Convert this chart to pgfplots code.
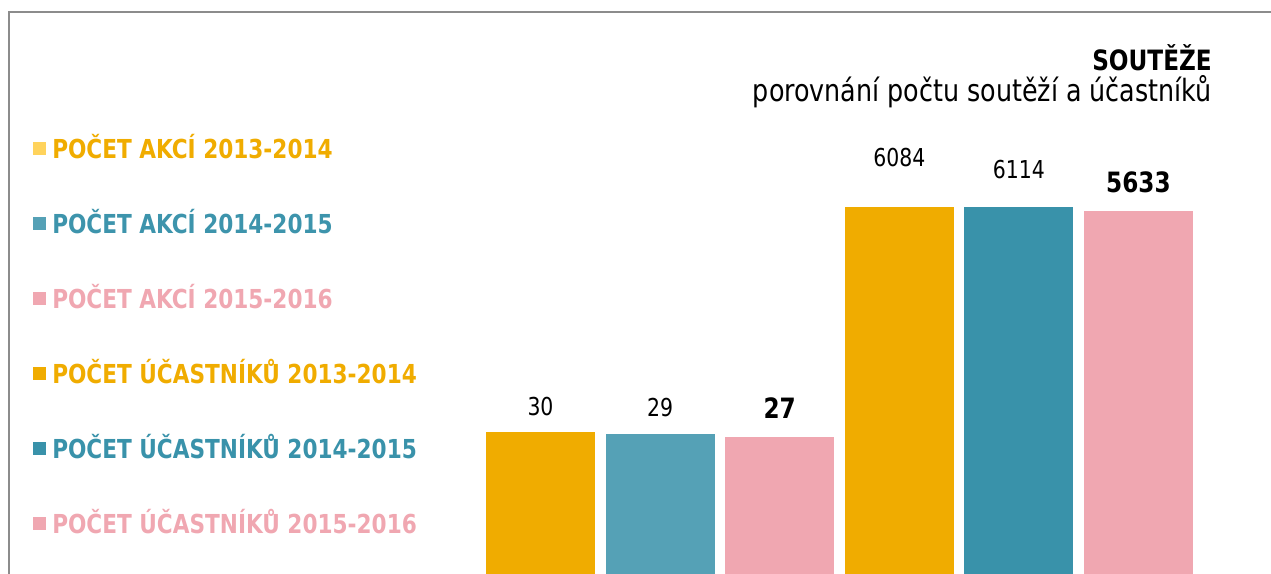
\documentclass[border=0pt]{standalone}
\usepackage{pgfplots}
\pgfplotsset{compat=1.18}
\usepackage{fontspec}
\setmainfont{DejaVu Sans Condensed}[FakeStretch=0.92]
\definecolor{cOrange}{HTML}{F0AC00}
\definecolor{cYellow}{HTML}{FFD35C}
\definecolor{cTeal}{HTML}{55A1B6}
\definecolor{cTealText}{HTML}{3D94AC}
\definecolor{cDark}{HTML}{3992AA}
\definecolor{cPink}{HTML}{F0A7B1}
\definecolor{cFrame}{HTML}{8C8C8C}
\pgfplotsset{
  sq/.style={legend image code/.code={\fill[#1] (0pt,-4.875pt) rectangle (9.75pt,4.875pt);}},
}
\begin{document}
\begin{tikzpicture}
% frame (only left and top are visible)
\draw[cFrame, line width=1pt] (6.75pt,-12pt) -- (6.75pt,421.5pt) -- (970pt,421.5pt);
\node[anchor=base east, inner sep=0pt, font=\bfseries\fontsize{21}{24}\selectfont] at (909pt,377.25pt) {SOUTĚŽE};
\node[anchor=base east, inner sep=0pt, font=\fontsize{23}{26}\selectfont] at (909pt,354pt) {porovnání počtu soutěží a účastníků};
\begin{axis}[
  at={(360.525pt,-1.5pt)}, anchor=south west,
  scale only axis, width=538.2pt, height=423pt,
  xmin=-0.5, xmax=5.5,
  ymode=log, ymin=1, ymax=617000,
  hide axis,
  bar width=0.911,
  legend cell align=left,
  legend style={
    draw=none, fill=none, inner sep=0pt,
    at={(-0.6239,0.7748)}, anchor=north west,
    font=\bfseries\fontsize{19.6}{22}\selectfont,
    row sep=41.8pt,
    nodes={inner sep=0pt, text height=14.4pt, text depth=0pt},
    /tikz/every odd column/.append style={column sep=4.5pt},
  },
]
\addplot[ybar, bar shift=0pt, fill=cOrange, draw=none, sq=cYellow] coordinates {(0,30)};
\addlegendentry{\textcolor{cOrange}{POČET AKCÍ 2013-2014}}
\addplot[ybar, bar shift=0pt, fill=cTeal, draw=none, sq=cTeal] coordinates {(1,29)};
\addlegendentry{\textcolor{cTealText}{POČET AKCÍ 2014-2015}}
\addplot[ybar, bar shift=0pt, fill=cPink, draw=none, sq=cPink] coordinates {(2,27)};
\addlegendentry{\textcolor{cPink}{POČET AKCÍ 2015-2016}}
\addplot[ybar, bar shift=0pt, fill=cOrange, draw=none, sq=cOrange] coordinates {(3,6084)};
\addlegendentry{\textcolor{cOrange}{POČET ÚČASTNÍKŮ 2013-2014}}
\addplot[ybar, bar shift=0pt, fill=cDark, draw=none, sq=cDark] coordinates {(4,6114)};
\addlegendentry{\textcolor{cDark}{POČET ÚČASTNÍKŮ 2014-2015}}
\addplot[ybar, bar shift=0pt, fill=cPink, draw=none, sq=cPink] coordinates {(5,5633)};
\addlegendentry{\textcolor{cPink}{POČET ÚČASTNÍKŮ 2015-2016}}
% value labels
\node[anchor=base, inner sep=0pt, font=\fontsize{18.5}{20}\selectfont, yshift=12.75pt] at (axis cs:0,30) {30};
\node[anchor=base, inner sep=0pt, font=\fontsize{18.5}{20}\selectfont, yshift=12.75pt] at (axis cs:1,29) {29};
\node[anchor=base, inner sep=0pt, font=\bfseries\fontsize{21}{23}\selectfont, yshift=13.5pt] at (axis cs:2,27) {27};
\node[anchor=base, inner sep=0pt, font=\fontsize{18.5}{20}\selectfont, yshift=30.75pt] at (axis cs:3,6084) {6084};
\node[anchor=base, inner sep=0pt, font=\fontsize{18.5}{20}\selectfont, yshift=21.75pt] at (axis cs:4,6114) {6114};
\node[anchor=base, inner sep=0pt, font=\bfseries\fontsize{21}{23}\selectfont, yshift=13.5pt] at (axis cs:5,5633) {5633};
\end{axis}
\pgfresetboundingbox
\path[use as bounding box] (0pt,0pt) rectangle (953.25pt,430.5pt);
\end{tikzpicture}
\end{document}
